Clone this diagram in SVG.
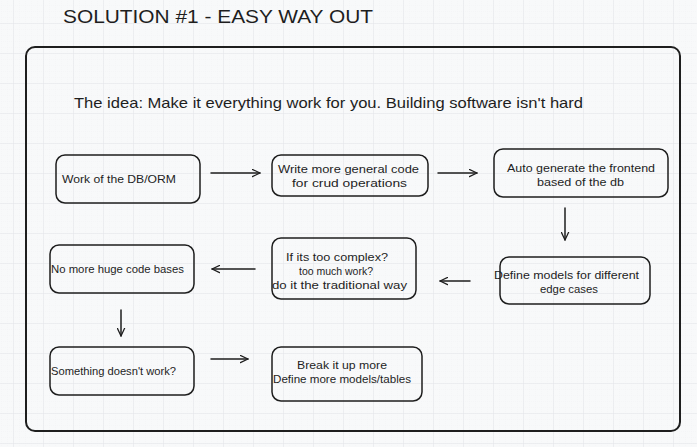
<svg xmlns="http://www.w3.org/2000/svg" width="697" height="447" viewBox="0 0 697 447">
<defs>
<pattern id="minor" patternUnits="userSpaceOnUse" x="13" y="23" width="6" height="6">
<path d="M0 0H6M0 0V6" fill="none" stroke="#eceef1" stroke-width="0.6" stroke-dasharray="1 1"/>
</pattern>
<pattern id="major" patternUnits="userSpaceOnUse" x="13" y="23" width="30" height="30">
<path d="M0 0H30M0 0V30" fill="none" stroke="#e2e4e8" stroke-width="1"/>
</pattern>
<marker id="ah" viewBox="0 0 10 10" refX="9" refY="5" markerWidth="9" markerHeight="9" markerUnits="userSpaceOnUse" orient="auto">
<path d="M0.5 1L9 5L0.5 9" fill="none" stroke="#1e1e1e" stroke-width="1.4" stroke-linecap="round" stroke-linejoin="round"/>
</marker>
<style>
.node rect{fill:none;stroke:#1e1e1e;stroke-width:1.5}
text{font-family:"Liberation Sans",Arial,sans-serif;fill:#1e1e1e}
.t{font-size:11.5px}
.conn line{stroke:#1e1e1e;stroke-width:1.5;stroke-linecap:round}
</style>
</defs>
<rect width="697" height="447" fill="#f8f9fa"/>
<rect width="697" height="447" fill="url(#minor)"/>
<rect width="697" height="447" fill="url(#major)"/>

<g id="title">
<text x="63" y="23" font-size="19" textLength="310" lengthAdjust="spacingAndGlyphs">SOLUTION #1 - EASY WAY OUT</text>
</g>

<g id="frame">
<rect x="26" y="47" width="654" height="384" rx="9" fill="none" stroke="#1e1e1e" stroke-width="2"/>
</g>

<g id="idea">
<text x="74" y="108" font-size="15" textLength="509" lengthAdjust="spacingAndGlyphs">The idea: Make it everything work for you. Building software isn't hard</text>
</g>

<g id="n1" class="node">
<rect x="56" y="155" width="144" height="48" rx="9"/>
<text class="t" x="62" y="183" textLength="114" lengthAdjust="spacingAndGlyphs">Work of the DB/ORM</text>
</g>

<g id="n2" class="node">
<rect x="272" y="155" width="156" height="41" rx="9"/>
<text class="t" x="278" y="173" textLength="141" lengthAdjust="spacingAndGlyphs">Write more general code</text>
<text class="t" x="292" y="187" textLength="115" lengthAdjust="spacingAndGlyphs">for crud operations</text>
</g>

<g id="n3" class="node">
<rect x="494" y="149" width="174" height="48" rx="9"/>
<text class="t" x="507" y="172" textLength="148" lengthAdjust="spacingAndGlyphs">Auto generate the frontend</text>
<text class="t" x="537" y="186" textLength="87" lengthAdjust="spacingAndGlyphs">based of the db</text>
</g>

<g id="n4" class="node">
<rect x="500" y="257" width="150" height="47" rx="9"/>
<text class="t" x="494" y="279" textLength="145" lengthAdjust="spacingAndGlyphs">Define models for different</text>
<text class="t" x="540" y="293" textLength="58" lengthAdjust="spacingAndGlyphs">edge cases</text>
</g>

<g id="n5" class="node">
<rect x="272" y="238" width="144" height="61" rx="9"/>
<text class="t" x="286" y="261" textLength="102" lengthAdjust="spacingAndGlyphs">If its too complex?</text>
<text class="t" x="299" y="275" textLength="74" lengthAdjust="spacingAndGlyphs">too much work?</text>
<text class="t" x="272" y="289" textLength="135" lengthAdjust="spacingAndGlyphs">do it the traditional way</text>
</g>

<g id="n6" class="node">
<rect x="50" y="245" width="144" height="48" rx="9"/>
<text class="t" x="51" y="273" textLength="133" lengthAdjust="spacingAndGlyphs">No more huge code bases</text>
</g>

<g id="n7" class="node">
<rect x="50" y="347" width="144" height="48" rx="9"/>
<text class="t" x="51" y="375" textLength="125" lengthAdjust="spacingAndGlyphs">Something doesn't work?</text>
</g>

<g id="n8" class="node">
<rect x="272" y="347" width="150" height="54" rx="9"/>
<text class="t" x="297" y="369" textLength="90" lengthAdjust="spacingAndGlyphs">Break it up more</text>
<text class="t" x="273" y="383" textLength="138" lengthAdjust="spacingAndGlyphs">Define more models/tables</text>
</g>

<g id="connectors" class="conn">
<line x1="211" y1="173" x2="260" y2="173" marker-end="url(#ah)"/>
<line x1="438" y1="173" x2="477" y2="173" marker-end="url(#ah)"/>
<line x1="565" y1="208" x2="565" y2="240" marker-end="url(#ah)"/>
<line x1="470" y1="281" x2="440" y2="281" marker-end="url(#ah)"/>
<line x1="255" y1="269" x2="212" y2="269" marker-end="url(#ah)"/>
<line x1="121" y1="310" x2="121" y2="336" marker-end="url(#ah)"/>
<line x1="211" y1="359" x2="248" y2="359" marker-end="url(#ah)"/>
</g>
</svg>
